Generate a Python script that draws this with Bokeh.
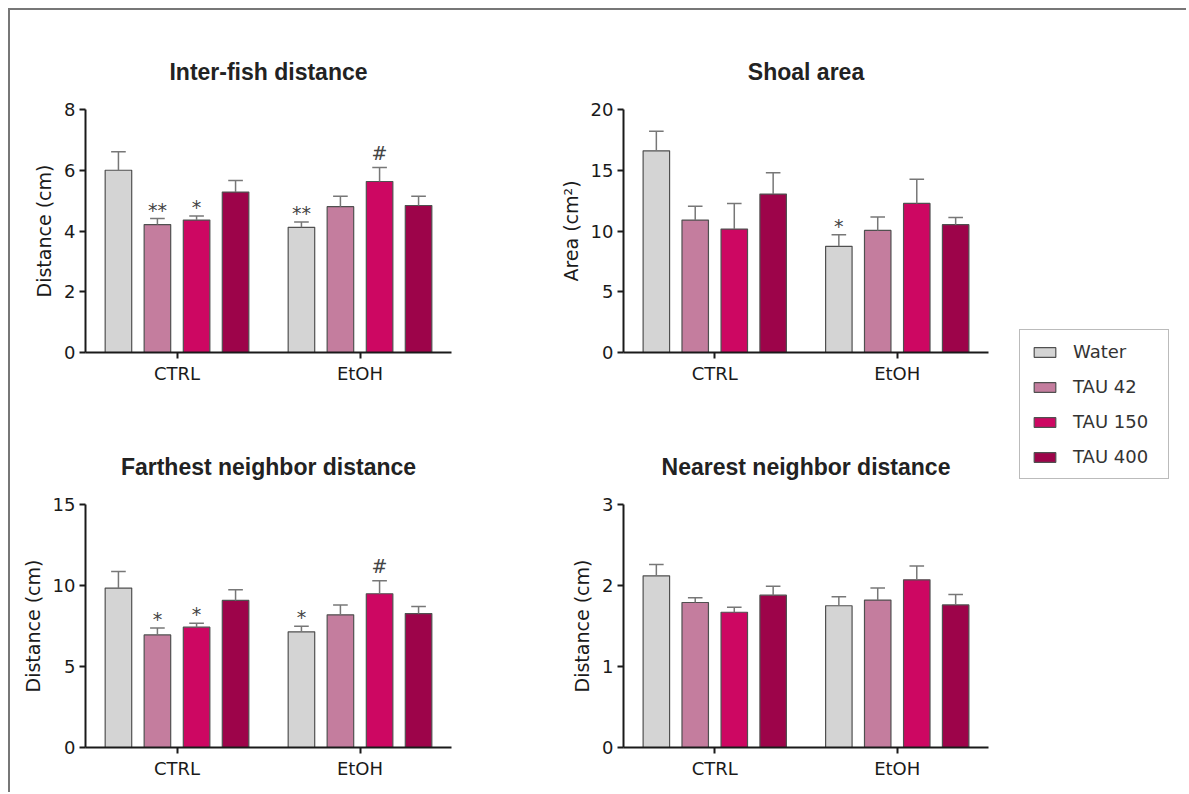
from bokeh.plotting import figure
from bokeh.models import ColumnDataSource, FactorRange, Range1d, FixedTicker, Legend, LegendItem
from bokeh.transform import dodge
from bokeh.layouts import row, column
from bokeh.embed import file_html
from bokeh.resources import INLINE
from bokeh.core.properties import value

# ---------------- data ----------------
groups = ["CTRL", "EtOH"]
series = ["Water", "TAU 42", "TAU 150", "TAU 400"]
colors = ["#d4d4d4", "#c47d9e", "#cd0762", "#9d044a"]

# Inter-fish distance (cm): bar means and top of error bar, per group [CTRL, EtOH]
ifd_water = [6.00, 4.12]
ifd_water_err = [6.61, 4.30]
ifd_tau42 = [4.21, 4.80]
ifd_tau42_err = [4.41, 5.14]
ifd_tau150 = [4.36, 5.63]
ifd_tau150_err = [4.49, 6.09]
ifd_tau400 = [5.28, 4.84]
ifd_tau400_err = [5.66, 5.14]

# Shoal area (cm2)
sa_water = [16.6, 8.74]
sa_water_err = [18.2, 9.70]
sa_tau42 = [10.9, 10.05]
sa_tau42_err = [12.03, 11.15]
sa_tau150 = [10.16, 12.27]
sa_tau150_err = [12.27, 14.25]
sa_tau400 = [13.04, 10.52]
sa_tau400_err = [14.79, 11.12]

# Farthest neighbor distance (cm)
fnd_water = [9.84, 7.14]
fnd_water_err = [10.87, 7.49]
fnd_tau42 = [6.95, 8.19]
fnd_tau42_err = [7.37, 8.79]
fnd_tau150 = [7.43, 9.49]
fnd_tau150_err = [7.67, 10.30]
fnd_tau400 = [9.08, 8.27]
fnd_tau400_err = [9.74, 8.71]

# Nearest neighbor distance (cm)
nnd_water = [2.12, 1.75]
nnd_water_err = [2.26, 1.86]
nnd_tau42 = [1.79, 1.82]
nnd_tau42_err = [1.85, 1.97]
nnd_tau150 = [1.67, 2.07]
nnd_tau150_err = [1.73, 2.24]
nnd_tau400 = [1.88, 1.76]
nnd_tau400_err = [1.99, 1.89]

# significance marks: (group, series, label)
ifd_marks = [("CTRL", "TAU 42", "**"), ("CTRL", "TAU 150", "*"),
             ("EtOH", "Water", "**"), ("EtOH", "TAU 150", "#")]
sa_marks = [("EtOH", "Water", "*")]
fnd_marks = [("CTRL", "TAU 42", "*"), ("CTRL", "TAU 150", "*"),
             ("EtOH", "Water", "*"), ("EtOH", "TAU 150", "#")]
nnd_marks = []

ifd_ticks = [0, 2, 4, 6, 8]
sa_ticks = [0, 5, 10, 15, 20]
fnd_ticks = [0, 5, 10, 15]
nnd_ticks = [0, 1, 2, 3]

# ---------------- styling ----------------
OFFSETS = [-0.32, -0.107, 0.107, 0.32]
BAR_W = 0.145
CAP_W = 0.08
FONT = "DejaVu Sans"
TXT = "#1a1a1a"
AXC = "#1a1a1a"
MARK_OFFSET = {"*": -9, "**": -9, "#": -15}


def make_panel(title, ylabel, ticks, vals, errs, marks, left, right, top, bottom, fw):
    p = figure(x_range=FactorRange(factors=groups), y_range=Range1d(ticks[0], ticks[-1]),
               frame_width=fw, frame_height=243,
               min_border_left=left, min_border_right=right,
               min_border_top=top, min_border_bottom=bottom,
               toolbar_location=None, output_backend="svg", title=title)
    p.title.text_font = "Liberation Sans"
    p.title.text_font_style = "bold"
    p.title.text_font_size = "23px"
    p.title.text_color = "#222222"
    p.title.align = "center"
    p.title.standoff = 50
    p.outline_line_color = None
    p.xgrid.visible = False
    p.ygrid.visible = False

    src = ColumnDataSource(dict(group=groups,
                                **{f"v{i}": vals[i] for i in range(4)},
                                **{f"e{i}": errs[i] for i in range(4)}))
    for i in range(4):
        xs = dodge("group", OFFSETS[i], range=p.x_range)
        p.vbar(x=xs, top=f"v{i}", bottom=0, width=BAR_W, source=src,
               fill_color=colors[i], line_color="#505050", line_width=1.2)
        p.segment(x0=xs, y0=f"v{i}", x1=xs, y1=f"e{i}", source=src,
                  line_color="#777777", line_width=1.5)
        p.segment(x0=dodge("group", OFFSETS[i] - CAP_W / 2, range=p.x_range), y0=f"e{i}",
                  x1=dodge("group", OFFSETS[i] + CAP_W / 2, range=p.x_range), y1=f"e{i}",
                  source=src, line_color="#777777", line_width=1.5)
        ms = [m for m in marks if m[1] == series[i]]
        if ms:
            msrc = ColumnDataSource(dict(
                group=[m[0] for m in ms],
                y=[errs[i][groups.index(m[0])] for m in ms],
                label=[m[2] for m in ms],
                off=[MARK_OFFSET[m[2]] for m in ms]))
            p.text(x=dodge("group", OFFSETS[i], range=p.x_range), y="y", text="label",
                   source=msrc, text_align="center", text_baseline="alphabetic",
                   y_offset="off", text_font=value(FONT), text_font_size="19px",
                   text_color="#444444")

    p.yaxis.ticker = FixedTicker(ticks=ticks)
    p.yaxis.axis_label = ylabel
    for ax in (p.xaxis[0], p.yaxis[0]):
        ax.axis_line_color = AXC
        ax.axis_line_width = 2
        ax.major_tick_line_color = AXC
        ax.major_tick_line_width = 2
        ax.major_tick_in = 0
        ax.major_tick_out = 6
        ax.minor_tick_line_color = None
        ax.major_label_text_font = FONT
        ax.major_label_text_font_size = "18px"
        ax.major_label_text_color = TXT
        ax.major_label_standoff = 4
    p.yaxis.axis_label_text_font = FONT
    p.yaxis.axis_label_text_font_size = "19px"
    p.yaxis.axis_label_text_font_style = "normal"
    p.yaxis.axis_label_text_color = TXT
    p.yaxis.axis_label_standoff = 6
    return p


p1 = make_panel("Inter-fish distance", "Distance (cm)", ifd_ticks,
                [ifd_water, ifd_tau42, ifd_tau150, ifd_tau400],
                [ifd_water_err, ifd_tau42_err, ifd_tau150_err, ifd_tau400_err],
                ifd_marks, 74, 90, 99, 53, 366)
p2 = make_panel("Shoal area", "Area (cm\u00b2)", sa_ticks,
                [sa_water, sa_tau42, sa_tau150, sa_tau400],
                [sa_water_err, sa_tau42_err, sa_tau150_err, sa_tau400_err],
                sa_marks, 76, 19, 99, 53, 365)
p3 = make_panel("Farthest neighbor distance", "Distance (cm)", fnd_ticks,
                [fnd_water, fnd_tau42, fnd_tau150, fnd_tau400],
                [fnd_water_err, fnd_tau42_err, fnd_tau150_err, fnd_tau400_err],
                fnd_marks, 75, 89, 99, 45, 366)
p4 = make_panel("Nearest neighbor distance", "Distance (cm)", nnd_ticks,
                [nnd_water, nnd_tau42, nnd_tau150, nnd_tau400],
                [nnd_water_err, nnd_tau42_err, nnd_tau150_err, nnd_tau400_err],
                nnd_marks, 83, 12, 99, 45, 365)

# legend panel (legend renderers hold one bar far outside the visible range)
lf = figure(frame_width=186, frame_height=782, min_border=0, x_range=(0, 1), y_range=(0, 1),
            x_axis_location=None, y_axis_location=None,
            toolbar_location=None, output_backend="svg")
lf.outline_line_color = None
lf.xgrid.visible = False
lf.ygrid.visible = False
items = []
for name, c in zip(series, colors):
    r = lf.vbar(x=[-10], top=[-10], bottom=[-11], width=0.1,
                fill_color=c, line_color="#505050", line_width=1.2)
    items.append(LegendItem(label=name, renderers=[r]))
leg = Legend(items=items, location=(19, 313), border_line_color="#777777", border_line_width=1,
             padding=11, spacing=14, glyph_width=27, glyph_height=12, label_standoff=15,
             label_width=84,
             label_text_font=FONT, label_text_font_size="18px", label_text_color="#333333",
             background_fill_alpha=1.0)
lf.add_layout(leg)

layout = row(column(p1, p3), column(p2, p4), lf)
layout.styles = {"border-top": "2px solid #777777", "border-left": "2px solid #777777",
                 "margin-left": "8px", "margin-top": "8px"}

open("out.html", "w").write(file_html(layout, INLINE))
